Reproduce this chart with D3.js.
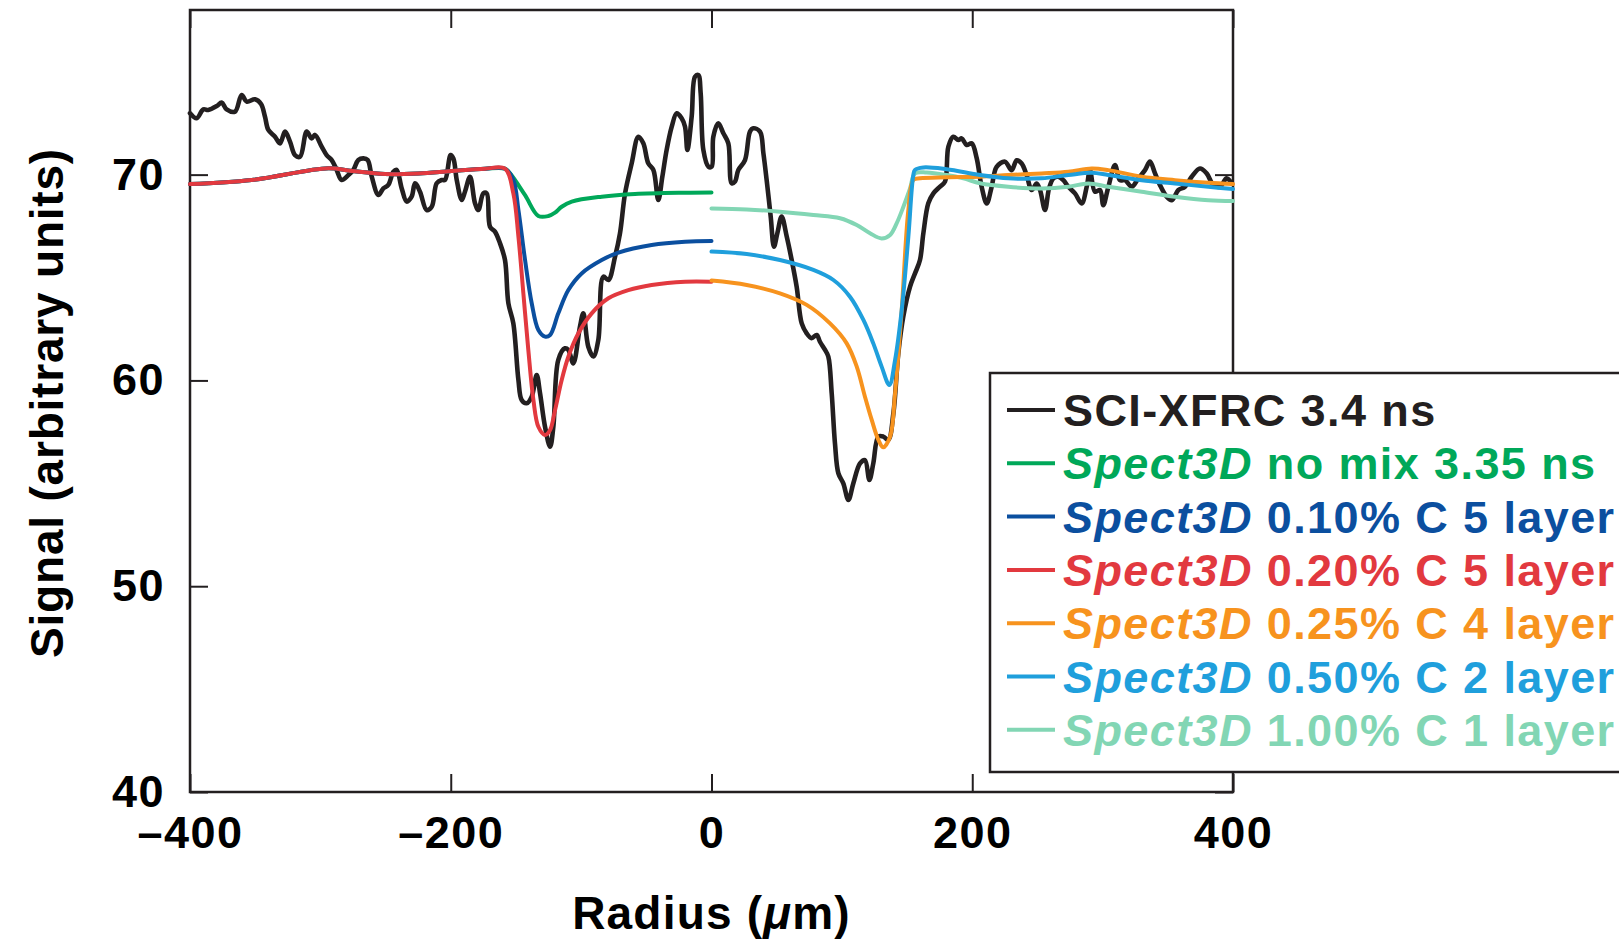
<!DOCTYPE html>
<html>
<head>
<meta charset="utf-8">
<script src="https://cdn.jsdelivr.net/npm/d3@7/dist/d3.min.js"></script>
<style>
  html, body { margin: 0; padding: 0; background: #fff; }
  svg { display: block; }
  text { font-family: "Liberation Sans", Arial, Helvetica, sans-serif; font-weight: bold; }
</style>
</head>
<body>
<svg id="chart" width="1619" height="939"></svg>
<script>
// ---------- DATA ----------
const xTicks = [-400, -200, 0, 200, 400];
const yTicks = [40, 50, 60, 70];

// SCI-XFRC 3.4 ns (measured)
const xfrcRadius = [-400,-394.9,-389.8,-386,-379.5,-375.7,-371.9,-365.5,-360.4,-356.5,-350.1,-345.5,-342.5,-339.9,-334.8,-331,-327.1,-323.3,-319.5,-315.6,-310.5,-306.7,-304.1,-299,-295.2,-291.3,-287.5,-283.7,-278.5,-274.7,-270.9,-267,-263.7,-260.6,-255.5,-251.7,-247.9,-244,-241.5,-237.6,-233.8,-230,-227.4,-223.6,-218.5,-214.6,-210.8,-207,-204.4,-200.1,-198,-195.4,-191.6,-189.1,-185.2,-181.4,-178.8,-175,-172.4,-169.9,-166.1,-162.2,-158.4,-155.8,-152,-148.1,-145.6,-141.8,-137.9,-134.1,-131.5,-127.7,-123.8,-121.3,-117.5,-112.4,-109.8,-106,-100.9,-98.3,-94.5,-90.6,-86.8,-83,-79.1,-74,-70.2,-66.3,-61.2,-56.1,-52.3,-48.5,-44.6,-40.8,-37.7,-34.4,-30.5,-26.7,-22.9,-20.3,-18.5,-15.2,-12.65,-10.1,-8.3,-6.25,-2.4,0.13,1.4,5.2,9.1,12.9,15.5,18,20.6,25.7,29.5,32.1,37.2,39.8,42.3,45.4,47.9,50.5,53.8,57.7,61.5,65.3,69.2,73,76.8,80.7,83.2,87.1,89.6,92.2,94.7,97.3,101.1,105,108.8,113.9,117.7,121.1,124.1,128,131.8,135.6,139.5,143.3,147.1,152.3,156.1,159.9,162.5,166.3,170.2,175.3,179.1,181.7,185.5,189.3,191.9,195.7,199.6,203.4,207.2,211.1,214.9,218.7,225.1,230.2,234.1,237.9,241.7,245.6,249.4,252,255.8,258.9,262.2,266,269.9,273.7,278.8,283.9,287.8,290.3,294.1,298,300.5,304.4,309.5,313.3,317.2,322.3,327.4,332.5,336.3,340.2,344,349.1,353,358.1,363.2,368.3,374.7,379.8,385,390,395.1,399];
const xfrcSignal = [72.98,72.74,73.17,73.14,73.33,73.5,73.17,73.06,73.87,73.55,73.66,73.43,72.82,72.17,71.84,71.52,72.09,71.6,70.95,70.87,72.09,71.76,71.93,71.36,70.95,70.71,70.23,69.74,69.98,70.23,70.71,70.79,70.71,69.9,69.01,69.33,69.5,70.14,70.23,69.33,68.69,68.93,69.58,69.17,68.28,68.44,69.58,69.74,69.74,70.95,70.79,69.74,68.77,69.17,69.9,68.61,68.28,69.09,69.09,67.47,67.23,66.66,65.85,63.75,62.77,60.02,59.05,58.89,59.21,60.26,59.37,57.75,56.78,57.75,61.0,61.56,61.48,60.83,62.61,63.26,61.64,61.16,61.97,65.04,64.88,66.01,67.15,69.09,70.55,71.84,71.52,70.55,70.23,68.77,69.9,71.2,72.33,72.98,72.74,72.33,71.2,72.82,74.76,74.84,73.95,71.2,70.39,70.39,71.84,72.49,72.01,71.52,69.58,69.66,70.23,70.71,72.09,72.25,72.09,71.04,69.74,67.96,66.5,67.15,67.96,66.99,65.85,64.56,62.77,62.29,62.05,62.21,61.88,61.48,61.16,59.37,56.94,55.49,55.0,54.19,55.0,55.97,56.13,55.16,55.97,57.27,57.27,57.11,58.4,61.32,63.1,64.56,65.2,65.85,67.15,68.61,69.09,69.42,69.66,71.36,71.84,71.68,71.76,71.44,71.52,70.8,69.41,68.6,69.41,70.38,70.63,70.22,70.7,70.54,69.98,69.25,69.57,69.25,68.28,69.33,69.82,69.9,69.73,69.41,69.09,68.6,69.41,70.22,69.17,69.25,68.52,69.41,70.46,69.73,69.73,69.41,69.82,70.22,70.63,70.06,69.49,68.93,68.76,69.25,69.41,69.9,70.3,70.06,69.49,69.41,69.82,69.57];

// Spect3D no mix 3.35 ns (left half)
const noMixRadius = [-400,-352.7,-293.9,-276,-250.4,-224.9,-199.3,-173.7,-158.4,-154.5,-143,-132.8,-125.1,-120,-114.9,-107.2,-84.2,-58.7,-20.3,0];
const noMixSignal = [69.54,69.74,70.31,70.18,70.03,70.06,70.18,70.29,70.29,70.06,69.0,67.99,67.99,68.15,68.44,68.69,68.93,69.06,69.12,69.13];

// Spect3D 0.10% C 5 layer (left half)
const c010Radius = [-400,-352.7,-293.9,-276,-250.4,-224.9,-199.3,-173.7,-158.4,-152,-148.1,-143,-137.9,-132.8,-127.7,-123.8,-117.5,-109.8,-99.6,-84.2,-71.4,-45.9,-20.3,0];
const c010Signal = [69.54,69.74,70.31,70.18,70.03,70.06,70.18,70.29,70.29,69.74,68.28,65.85,63.75,62.45,62.13,62.21,63.26,64.39,65.2,65.85,66.21,66.58,66.74,66.77];

// Spect3D 0.20% C 5 layer (left half)
const c020Radius = [-400,-352.7,-293.9,-276,-250.4,-224.9,-199.3,-173.7,-158.4,-152,-148.1,-144.3,-140.5,-136.6,-132.8,-127.7,-123.8,-120,-114.9,-109.8,-102.1,-91.9,-79.1,-63.8,-45.9,-20.3,0];
const c020Signal = [69.54,69.74,70.31,70.18,70.03,70.06,70.18,70.29,70.29,69.09,66.99,64.23,61.48,59.05,57.75,57.35,57.59,58.56,60.02,61.15,62.29,63.26,63.99,64.39,64.64,64.8,64.8];

// Spect3D 0.25% C 4 layer (right half)
const c025Radius = [0,27,52.5,73,90.9,103.7,111.4,117.7,122.9,128,131.8,137,140.8,145.9,151,154.8,159.9,180.4,206,227.7,253.2,273.7,291.6,304.4,330,355.5,381.1,400];
const c025Signal = [64.85,64.64,64.23,63.67,62.77,61.8,60.67,59.21,58.08,57.11,56.75,57.27,59.37,63.42,68.28,69.74,69.82,69.87,69.9,69.98,70.06,70.14,70.3,70.22,69.9,69.73,69.6,69.54];

// Spect3D 0.50% C 2 layer (right half)
const c050Radius = [0,27,52.5,78.1,93.5,106.2,116.5,124.1,130.5,136.4,140.8,145.9,151,154.8,156.1,162.5,180.4,206,227.7,253.2,273.7,291.6,304.4,330,355.5,381.1,400];
const c050Signal = [66.26,66.14,65.85,65.37,64.88,64.07,62.94,61.8,60.67,59.78,60.99,63.42,66.99,69.98,70.23,70.35,70.26,69.98,69.82,69.82,69.98,70.09,69.98,69.73,69.57,69.41,69.3];

// Spect3D 1.00% C 1 layer (right half)
const c100Radius = [0,27,52.5,78.1,98.6,111.4,121.6,130.5,137,142,147.2,152.3,156.1,165,180.4,193.2,206,227.7,253.2,273.7,289,304.4,330,355.5,381.1,400];
const c100Signal = [68.36,68.31,68.2,68.04,67.88,67.55,67.15,66.9,67.07,67.63,68.44,69.33,70.06,70.1,69.98,69.82,69.58,69.41,69.33,69.41,69.57,69.41,69.17,68.93,68.76,68.72];

const seriesNames = ["SCI-XFRC 3.4 ns", "no mix 3.35 ns", "0.10% C 5 layer", "0.20% C 5 layer", "0.25% C 4 layer", "0.50% C 2 layer", "1.00% C 1 layer"];
const seriesPrefix = ["", "Spect3D", "Spect3D", "Spect3D", "Spect3D", "Spect3D", "Spect3D"];
const seriesColors = ["#231f20", "#00a859", "#0b4f9f", "#e2393f", "#f7931e", "#1f9fdc", "#82d6b4"];

// ---------- BUILD ----------
const series = [
  { r: xfrcRadius, s: xfrcSignal, w: 4.6 },
  { r: noMixRadius, s: noMixSignal, w: 4 },
  { r: c010Radius, s: c010Signal, w: 4 },
  { r: c020Radius, s: c020Signal, w: 4 },
  { r: c100Radius, s: c100Signal, w: 4, idx: 6 },
  { r: c025Radius, s: c025Signal, w: 4, idx: 4 },
  { r: c050Radius, s: c050Signal, w: 4, idx: 5 }
];
series.forEach((d, i) => { if (d.idx === undefined) d.idx = i; });

const svg = d3.select("#chart");
const mLeft = 190, mRight = 1233, mTop = 10, mBottom = 792;
const x = d3.scaleLinear().domain([-400, 400]).range([mLeft, mRight]);
const y = d3.scaleLinear().domain([40, 78]).range([mBottom, mTop]);
const ink = "#231f20";

// Axes (inward ticks on all four sides)
const fmt = d => d < 0 ? "\u2013" + Math.abs(d) : String(d);
const gx = svg.append("g").attr("transform", `translate(0,${mBottom})`)
  .call(d3.axisBottom(x).tickValues(xTicks).tickSize(-18).tickPadding(24).tickFormat(fmt));
const gy = svg.append("g").attr("transform", `translate(${mLeft},0)`)
  .call(d3.axisLeft(y).tickValues(yTicks).tickSize(-18).tickPadding(25).tickFormat(fmt));
const gt = svg.append("g").attr("transform", `translate(0,${mTop})`)
  .call(d3.axisTop(x).tickValues(xTicks).tickSize(-18).tickFormat(""));
const gr = svg.append("g").attr("transform", `translate(${mRight},0)`)
  .call(d3.axisRight(y).tickValues(yTicks).tickSize(-18).tickFormat(""));
[gx, gy, gt, gr].forEach(g => {
  g.select(".domain").remove();
  g.selectAll(".tick line").attr("stroke", ink).attr("stroke-width", 2);
  g.selectAll(".tick text").attr("fill", "#000")
    .style("font-size", "45px").style("letter-spacing", "1.5px")
    .style("font-family", "'Liberation Sans', Arial, sans-serif").style("font-weight", "bold");
});

svg.append("rect").attr("x", mLeft).attr("y", mTop)
  .attr("width", mRight - mLeft).attr("height", mBottom - mTop)
  .attr("fill", "none").attr("stroke", ink).attr("stroke-width", 2.5);

// Lines
const line = d3.line().curve(d3.curveCatmullRom.alpha(0.5));
series.forEach(d => {
  const pts = d.r.map((rv, k) => [x(rv), y(d.s[k])]);
  svg.append("path").attr("d", line(pts))
    .attr("fill", "none").attr("stroke", seriesColors[d.idx])
    .attr("stroke-width", d.w).attr("stroke-linejoin", "round").attr("stroke-linecap", "round");
});

// Axis titles
svg.append("text").attr("x", (mLeft + mRight) / 2).attr("y", 929)
  .attr("text-anchor", "middle").style("font-size", "46px").style("letter-spacing", "1.2px")
  .call(t => {
    t.append("tspan").text("Radius (");
    t.append("tspan").style("font-style", "italic").text("\u03bc");
    t.append("tspan").text("m)");
  });
svg.append("text").attr("transform", "translate(63,403) rotate(-90)")
  .attr("text-anchor", "middle").style("font-size", "46px").style("letter-spacing", "0.8px")
  .text("Signal (arbitrary units)");

// Legend
const lg = svg.append("g");
lg.append("rect").attr("x", 990).attr("y", 373).attr("width", 700).attr("height", 399)
  .attr("fill", "#fff").attr("stroke", ink).attr("stroke-width", 2.5);
const rowY = d3.range(seriesNames.length).map(i => 410 + i * 53.3);
seriesNames.forEach((name, i) => {
  lg.append("line").attr("x1", 1007).attr("x2", 1055).attr("y1", rowY[i]).attr("y2", rowY[i])
    .attr("stroke", seriesColors[i]).attr("stroke-width", 4);
  const t = lg.append("text").attr("x", 1063).attr("y", rowY[i] + 16)
    .attr("fill", seriesColors[i]).style("font-size", "45px").style("letter-spacing", "1.4px");
  if (seriesPrefix[i]) {
    t.append("tspan").style("font-style", "italic").text(seriesPrefix[i] + " ");
  }
  t.append("tspan").text(name);
});
</script>
</body>
</html>
